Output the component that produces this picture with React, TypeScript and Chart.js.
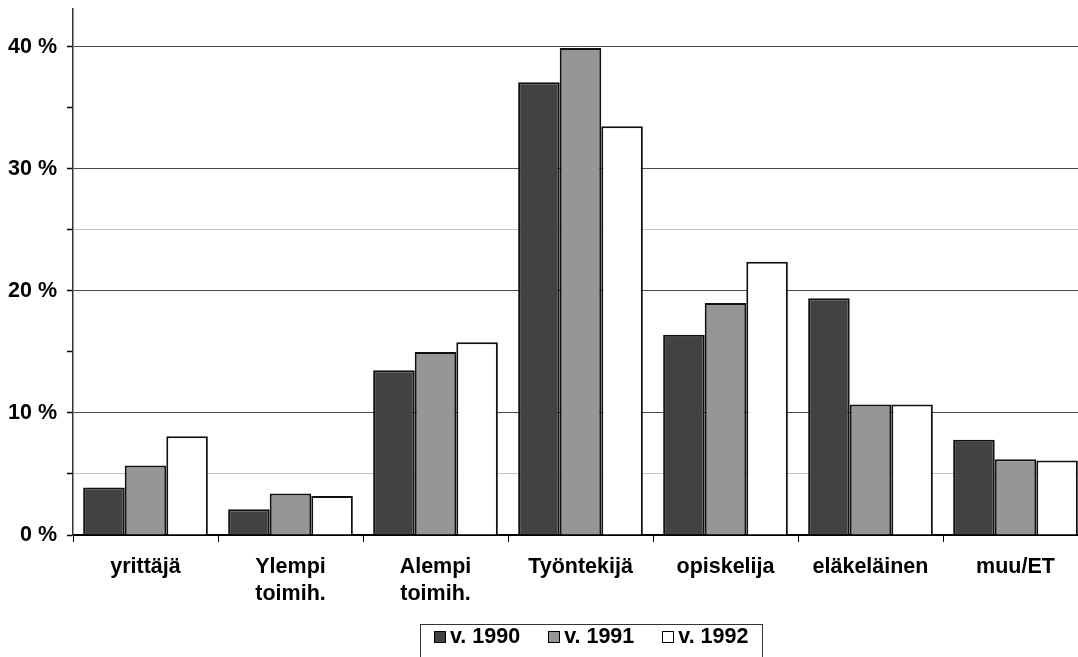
import React, { useEffect, useRef } from 'react';
import { Chart, registerables } from 'chart.js';

Chart.register(...registerables);

const categories: (string | string[])[] = [
  'yrittäjä',
  ['Ylempi', 'toimih.'],
  ['Alempi', 'toimih.'],
  'Työntekijä',
  'opiskelija',
  'eläkeläinen',
  'muu/ET',
];
const seriesNames = ['v. 1990', 'v. 1991', 'v. 1992'];
const values1990 = [3.9, 2.1, 13.5, 37.1, 16.4, 19.4, 7.8];
const values1991 = [5.7, 3.4, 15.0, 39.9, 19.0, 10.7, 6.2];
const values1992 = [8.1, 3.2, 15.8, 33.5, 22.4, 10.7, 6.1];
const yTickValues = [0, 5, 10, 15, 20, 25, 30, 35, 40];
const yMax = 43.1;

const FONT = '"Liberation Sans", Arial, sans-serif';
const FSIZE = 21.5;

const legendPlugin = {
  id: 'boxLegend',
  afterDraw(chart: any) {
    const ctx = chart.ctx as CanvasRenderingContext2D;
    ctx.save();
    ctx.font = `bold ${FSIZE}px ${FONT}`;
    const items = chart.data.datasets.map((ds: any) => ({
      label: ds.label,
      color: ds.backgroundColor,
      w: ctx.measureText(ds.label).width,
    }));
    const box = 12, gap = 4, spacing = 28, pad = 14;
    const contentW =
      items.reduce((s: number, it: any) => s + box + gap + it.w, 0) + spacing * (items.length - 1);
    const cx = 591;
    const left = Math.round(cx - contentW / 2 - pad);
    const top = 624;
    ctx.strokeStyle = '#333';
    ctx.lineWidth = 1;
    ctx.strokeRect(left + 0.5, top + 0.5, Math.round(contentW + 2 * pad), 80);
    let x = left + pad;
    const midY = 637;
    items.forEach((it: any) => {
      const bx = Math.round(x);
      ctx.fillStyle = it.color;
      ctx.fillRect(bx, midY - 6, box, box);
      ctx.strokeStyle = '#000';
      ctx.strokeRect(bx + 0.5, midY - 6 + 0.5, box - 1, box - 1);
      ctx.fillStyle = '#000';
      ctx.textBaseline = 'middle';
      ctx.textAlign = 'left';
      ctx.fillText(it.label, x + box + gap, midY);
      x += box + gap + it.w + spacing;
    });
    ctx.restore();
  },
};

export default function App() {
  const ref = useRef<HTMLCanvasElement>(null);

  useEffect(() => {
    if (!ref.current) return;
    const colors = ['#424242', '#969696', '#ffffff'];
    const series = [values1990, values1991, values1992];
    const chart = new Chart(ref.current, {
      type: 'bar',
      data: {
        labels: categories,
        datasets: series.map((vals, i) => ({
          label: seriesNames[i],
          data: vals,
          backgroundColor: colors[i],
          borderColor: '#111',
          borderWidth: 2,
          categoryPercentage: 0.86,
          barPercentage: 1,
        })),
      },
      options: {
        animation: false,
        responsive: false,
        devicePixelRatio: 1,
        layout: { padding: { left: 0, right: 12, top: 9, bottom: 0 } },
        plugins: {
          legend: { display: false },
          tooltip: { enabled: false },
        },
        scales: {
          x: {
            grid: {
              offset: true,
              drawOnChartArea: false,
              drawTicks: true,
              tickLength: 7,
              tickColor: '#000',
              tickWidth: 1,
            },
            border: { color: '#000', width: 2 },
            ticks: {
              color: '#000',
              padding: 12,
              maxRotation: 0,
              autoSkip: false,
              font: { family: FONT, size: FSIZE, weight: 'bold', lineHeight: 1.25 },
            },
            afterFit(scale: any) {
              scale.height = 122;
              scale.paddingLeft = 0;
              scale.paddingRight = 0;
            },
          },
          y: {
            min: 0,
            max: yMax,
            ticks: {
              includeBounds: false,
              color: '#000',
              padding: 10,
              font: { family: FONT, size: FSIZE, weight: 'bold' },
              callback: (v: any) => (Number(v) % 10 === 0 ? `${v} %` : ''),
            },
            afterBuildTicks(scale: any) {
              scale.ticks = yTickValues.map((v) => ({ value: v }));
            },
            grid: {
              color: (c: any) => {
                const v = c.tick ? c.tick.value : null;
                if (v === 10 || v === 20 || v === 30 || v === 40) return '#4a4a4a';
                if (v === 5 || v === 25) return '#888';
                return 'rgba(0,0,0,0)';
              },
              lineWidth: 1,
              tickLength: 6,
              tickColor: '#000',
              tickWidth: 1.5,
            },
            border: {
              color: '#333',
              width: 1.5,
              dash: (c: any) => {
                const v = c.tick ? c.tick.value : null;
                return v === 5 || v === 25 ? [1, 1] : [];
              },
            },
            afterFit(scale: any) {
              scale.width = 73;
              scale.paddingTop = 0;
              scale.paddingBottom = 0;
            },
          },
        },
      } as any,
      plugins: [legendPlugin],
    });
    return () => chart.destroy();
  }, []);

  return (
    <div
      style={{
        position: 'fixed',
        left: 0,
        top: 0,
        width: 1078,
        height: 657,
        overflow: 'hidden',
        background: '#fff',
      }}
    >
      <canvas ref={ref} width={1100} height={657} style={{ display: 'block', width: 1100, height: 657 }} />
    </div>
  );
}
